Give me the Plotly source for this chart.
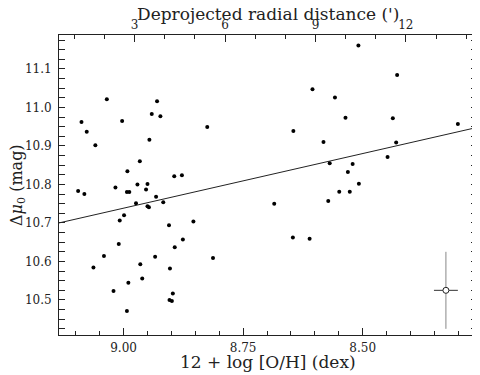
import plotly.graph_objects as go

# Data
oh_x = [9.088, 9.077, 9.059, 9.035, 9.003, 8.946, 8.941, 8.930, 8.923, 8.825,
        8.992, 8.966, 8.971, 8.950, 9.017, 8.953, 8.894, 8.878, 9.095, 9.082,
        8.993, 8.988, 8.932, 8.974, 8.950, 8.947, 8.917, 8.999, 9.008, 8.905,
        8.854, 9.010, 8.876, 8.893, 9.041, 8.934, 8.813, 9.063, 8.965, 8.903,
        8.961, 8.990, 9.021, 8.897, 8.904, 8.899, 8.993, 8.685, 8.646, 8.611,
        8.572, 8.549, 8.527, 8.508, 8.531, 8.569, 8.521, 8.448, 8.582, 8.430,
        8.645, 8.536, 8.437, 8.301, 8.558, 8.605, 8.428, 8.509]
dmu = [10.962, 10.937, 10.902, 11.021, 10.965, 10.916, 10.983, 11.016, 10.977, 10.949,
       10.834, 10.860, 10.800, 10.801, 10.792, 10.787, 10.821, 10.824, 10.783, 10.775,
       10.780, 10.780, 10.768, 10.751, 10.743, 10.741, 10.754, 10.720, 10.706, 10.694,
       10.704, 10.645, 10.657, 10.637, 10.614, 10.612, 10.609, 10.584, 10.593, 10.582,
       10.556, 10.545, 10.523, 10.517, 10.500, 10.497, 10.471, 10.750, 10.662, 10.659,
       10.757, 10.781, 10.781, 10.802, 10.832, 10.855, 10.853, 10.871, 10.910, 10.909,
       10.939, 10.973, 10.972, 10.957, 11.026, 11.047, 11.084, 11.161]

fit_x = [9.135, 8.261]
fit_y = [10.700, 10.948]

err_x = [8.326]
err_y = [10.525]
err_dx = [0.025]
err_dy = [0.100]

x_range = [9.135, 8.261]
y_range = [10.409, 11.188]
top_range = [0.49, 14.36]
bottom_ticks = [9.00, 8.75, 8.50]
bottom_labels = ["9.00", "8.75", "8.50"]
left_ticks = [10.5, 10.6, 10.7, 10.8, 10.9, 11.0, 11.1]
left_labels = ["10.5", "10.6", "10.7", "10.8", "10.9", "11.0", "11.1"]
top_ticks = [3, 6, 9, 12]
top_labels = ["3", "6", "9", "12"]

x_title = "12 + log [O/H] (dex)"
top_title = "Deprojected radial distance (')"
y_title = "Δ<i>μ</i><sub>0</sub> (mag)"

ink = "#222222"
serif = "DejaVu Serif"

fig = go.Figure()
fig.add_trace(go.Scatter(x=fit_x, y=fit_y, mode="lines",
                         line=dict(color=ink, width=1), showlegend=False,
                         hoverinfo="skip"))
fig.add_trace(go.Scatter(x=oh_x, y=dmu, mode="markers",
                         marker=dict(color="black", size=4), showlegend=False))
fig.add_trace(go.Scatter(x=err_x, y=err_y, mode="markers",
                         marker=dict(color="white", size=6, symbol="circle",
                                     line=dict(color=ink, width=1)),
                         error_x=dict(type="data", array=err_dx, color="#333333",
                                      thickness=1, width=0),
                         error_y=dict(type="data", array=err_dy, color="#888888",
                                      thickness=1, width=0),
                         showlegend=False))
# invisible trace to attach the top axis
fig.add_trace(go.Scatter(x=[top_range[0]], y=[y_range[0] - 1], xaxis="x2",
                         mode="markers", marker=dict(opacity=0),
                         showlegend=False, hoverinfo="skip"))

# the page body adds an 8 px offset, so the figure is 8 px smaller
fig.update_layout(
    width=472, height=367,
    margin=dict(l=51, r=3, t=27, b=40),
    paper_bgcolor="white", plot_bgcolor="white",
    font=dict(family=serif, color=ink, size=12),
    xaxis=dict(range=x_range, tickvals=bottom_ticks, ticktext=bottom_labels,
               ticks="inside", ticklen=7, tickwidth=1, tickcolor=ink,
               showline=True, linecolor=ink, linewidth=1, mirror=False,
               showgrid=False, zeroline=False, automargin=False,
               ticklabelstandoff=2,
               minor=dict(dtick=0.05, tick0=9.0, ticks="inside", ticklen=4,
                          tickcolor=ink, showgrid=False),
               tickfont=dict(size=12)),
    xaxis2=dict(overlaying="x", side="top", anchor="y", range=top_range,
                tickvals=top_ticks, ticktext=top_labels,
                ticks="inside", ticklen=7, tickwidth=1, tickcolor=ink,
                showline=True, linecolor=ink, linewidth=1,
                showgrid=False, zeroline=False, automargin=False,
                minor=dict(dtick=1, tick0=0, ticks="inside", ticklen=4,
                           tickcolor=ink, showgrid=False),
                tickfont=dict(size=12)),
    yaxis=dict(range=y_range, tickvals=left_ticks, ticktext=left_labels,
               ticks="inside", ticklen=6, tickwidth=1, tickcolor=ink,
               showline=True, linecolor=ink, linewidth=1, mirror="allticks",
               showgrid=False, zeroline=False, automargin=False,
               ticklabelstandoff=4,
               minor=dict(dtick=0.025, tick0=10.5, ticks="inside", ticklen=3,
                          tickcolor=ink, showgrid=False),
               tickfont=dict(size=12)),
    annotations=[
        dict(text=x_title, xref="paper", yref="paper", x=0.5, y=0,
             xanchor="center", yanchor="middle", yshift=-27, showarrow=False,
             font=dict(size=17, family=serif, color=ink)),
        dict(text=top_title, xref="paper", yref="paper", x=0.5, y=1,
             xanchor="center", yanchor="middle", yshift=21, showarrow=False,
             font=dict(size=17, family=serif, color=ink)),
        dict(text=y_title, xref="paper", yref="paper", x=0, y=0.5,
             xanchor="center", yanchor="middle", xshift=-42, textangle=-90,
             showarrow=False, font=dict(size=16, family=serif, color=ink)),
    ],
)

fig.write_html("out.html")
